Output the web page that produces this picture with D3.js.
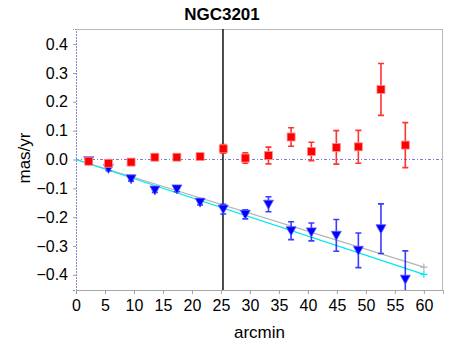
<!DOCTYPE html>
<html><head><meta charset="utf-8">
<script src="https://cdn.jsdelivr.net/npm/d3@7"></script>
<style>body{margin:0;background:#fff}svg{display:block}text{font-family:"Liberation Sans",Arial,sans-serif}</style>
</head><body><svg id="c" width="450" height="350"></svg>
<script>
const title = "NGC3201";
const xLabel = "arcmin";
const yLabel = "mas/yr";
const xTicks = [0,5,10,15,20,25,30,35,40,45,50,55,60];
const yTicks = [-0.4,-0.3,-0.2,-0.1,0,0.1,0.2,0.3,0.4];
const radius = [2.2,5.6,9.5,13.6,17.4,21.4,25.4,29.2,33.2,37.1,40.6,44.9,48.7,52.6,56.8];
const redVal = [-0.006,-0.013,-0.009,0.008,0.008,0.010,0.037,0.005,0.014,0.078,0.028,0.042,0.044,0.243,0.050];
const redErr = [0.004,0.005,0.005,0.005,0.005,0.006,0.015,0.018,0.029,0.032,0.032,0.058,0.057,0.090,0.078];
const blueVal = [-0.004,-0.031,-0.067,-0.106,-0.102,-0.148,-0.172,-0.190,-0.155,-0.247,-0.251,-0.263,-0.315,-0.240,-0.415];
const blueErr = [0.004,0.008,0.008,0.008,0.010,0.010,0.017,0.016,0.026,0.031,0.031,0.055,0.060,0.086,0.098];
const fitX = [0,60];
const cyanFit = [0,-0.398];
const grayFit = [0,-0.373];
const markerX = 25.35;

const svg = d3.select("#c");
const L=76,R=443,T=29,B=290;
const x = d3.scaleLinear().domain([0,63.3]).range([L,R]);
const y = d3.scaleLinear().domain([-0.4525,0.4525]).range([B,T]);

// frame
svg.append("line").attr("x1",L).attr("x2",R).attr("y1",T+0.5).attr("y2",T+0.5).attr("stroke","#b8b8b8");
svg.append("line").attr("x1",R-0.5).attr("x2",R-0.5).attr("y1",T).attr("y2",B).attr("stroke","#b8b8b8");

// axes
const xa = svg.append("g").attr("transform",`translate(0,${B})`)
  .call(d3.axisBottom(x).tickValues(xTicks).tickSize(4).tickPadding(6).tickFormat(d3.format("d")));
const ya = svg.append("g").attr("transform",`translate(${L},0)`)
  .call(d3.axisLeft(y).tickValues(yTicks).tickSize(3).tickPadding(5).tickFormat(d3.format(".1f")));
[xa,ya].forEach(a=>{
  a.selectAll("text").attr("font-size",16).attr("fill","#000").style("font-family","'Liberation Sans',Arial,sans-serif");
  a.selectAll(".tick line").attr("stroke","#a0a0a0");
});
xa.select(".domain").attr("stroke","#a8a8a8");
ya.select(".domain").attr("stroke","#8888cc").attr("stroke-dasharray","2,1");

// zero line
svg.append("line").attr("x1",L).attr("x2",R).attr("y1",y(0)).attr("y2",y(0))
  .attr("stroke","#7878e0").attr("stroke-dasharray","3,2,1,2");

// vertical marker
svg.append("line").attr("x1",x(markerX)).attr("x2",x(markerX)).attr("y1",T).attr("y2",B)
  .attr("stroke","#111").attr("stroke-width",1.5);

// fits
function fit(vals,color){
  const pts = fitX.map((d,i)=>[x(d),y(vals[i])]);
  svg.append("path").attr("d",d3.line()(pts)).attr("stroke",color).attr("stroke-width",1.3).attr("fill","none");
  const e = pts[1];
  svg.append("path").attr("d",`M${e[0]-3.5},${e[1]}H${e[0]+3.5}M${e[0]},${e[1]-3.5}V${e[1]+3.5}`)
    .attr("stroke",color).attr("stroke-width",1.2);
}
fit(grayFit,"#b4b4b4");
fit(cyanFit,"#00e8f0");

const clip = svg.append("clipPath").attr("id","pc").append("rect").attr("x",L).attr("y",T).attr("width",R-L).attr("height",B-T);
const g = svg.append("g").attr("clip-path","url(#pc)");

function errBars(vals,errs,color){
  radius.forEach((r,i)=>{
    const cx=x(r), y1=y(vals[i]+errs[i]), y2=y(vals[i]-errs[i]);
    g.append("path").attr("d",`M${cx},${y1}V${y2}M${cx-3},${y1}H${cx+3}M${cx-3},${y2}H${cx+3}`)
      .attr("stroke",color).attr("stroke-width",1.6).attr("stroke-opacity",0.85).attr("fill","none");
  });
}
errBars(blueVal,blueErr,"#1a1aff");
g.selectAll(".tri").data(radius).join("path")
  .attr("d",(d,i)=>{const cx=x(d),cy=y(blueVal[i]);return `M${cx-5},${cy-4}L${cx+5},${cy-4}L${cx},${cy+5}Z`;})
  .attr("fill","#0000ff").attr("stroke","#6060ff").attr("stroke-width",0.8);
errBars(redVal,redErr,"#ff1010");
g.selectAll(".sq").data(radius).join("rect")
  .attr("x",d=>x(d)-4).attr("y",(d,i)=>y(redVal[i])-4).attr("width",8).attr("height",8)
  .attr("fill","#ff0000").attr("stroke","#ff9090").attr("stroke-width",0.8);

// text
svg.append("text").attr("x",222).attr("y",20).attr("text-anchor","middle")
  .attr("font-size",17).attr("font-weight","bold").text(title);
svg.append("text").attr("x",259.5).attr("y",338).attr("text-anchor","middle").attr("font-size",17).text(xLabel);
svg.append("text").attr("transform","translate(30,158) rotate(-90)").attr("text-anchor","middle").attr("font-size",17).text(yLabel);
</script></body></html>
